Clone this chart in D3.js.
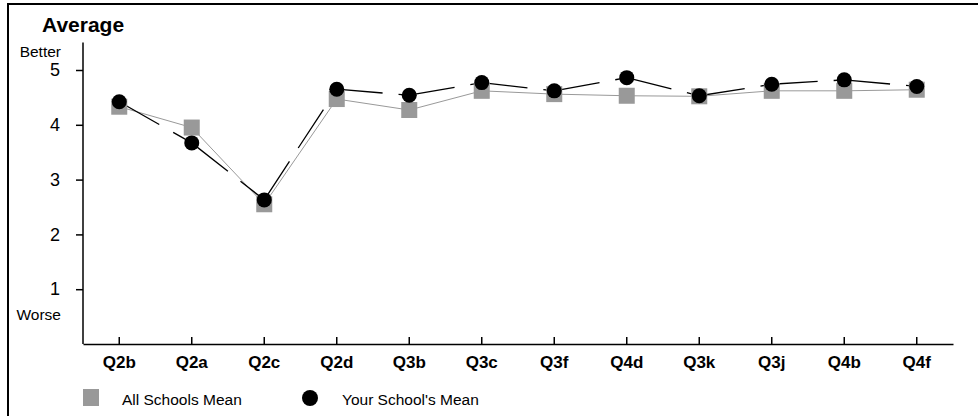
<!DOCTYPE html>
<html><head><meta charset="utf-8">
<script src="https://cdn.jsdelivr.net/npm/d3@7"></script>
<style>body{margin:0;background:#fff}svg{display:block;font-family:"Liberation Sans",Arial,sans-serif}</style>
</head><body><svg id="c" width="978" height="416"></svg>
<script>
const categories = ["Q2b","Q2a","Q2c","Q2d","Q3b","Q3c","Q3f","Q4d","Q3k","Q3j","Q4b","Q4f"];
const allSchools = [4.33,3.95,2.55,4.47,4.27,4.62,4.56,4.53,4.52,4.62,4.62,4.64];
const yourSchool = [4.42,3.67,2.63,4.65,4.54,4.77,4.62,4.86,4.53,4.74,4.82,4.70];
const yTicks = [1,2,3,4,5];
const seriesNames = ["All Schools Mean","Your School's Mean"];

const svg = d3.select("#c");
svg.append("rect").attr("x",8).attr("y",4).attr("width",1000).attr("height",500)
  .attr("fill","none").attr("stroke","#000").attr("stroke-width",2);

const x = d3.scaleBand().domain(categories).range([83,953]);
const y = d3.scaleLinear().domain([0,5.5]).range([344,42.6]);
const cx = c => x(c) + x.bandwidth()/2;

svg.append("text").attr("x",42).attr("y",32).attr("font-size",21).attr("font-weight","bold").text("Average");

// y axis
const ya = svg.append("g").attr("transform","translate(83,0)")
  .call(d3.axisLeft(y).tickValues(yTicks).tickSize(7).tickFormat(d3.format("d")));
ya.select(".domain").attr("d",`M0,${y(5.5)}V${y(0)}`).attr("stroke","#000").attr("stroke-width",1.5);
ya.selectAll(".tick line").attr("stroke","#000").attr("stroke-width",1.5);
ya.selectAll(".tick text").attr("font-size",18).attr("font-family","Liberation Sans, Arial, sans-serif").attr("fill","#000").attr("x",-23);
svg.append("text").attr("x",61).attr("y",57).attr("text-anchor","end").attr("font-size",15.5).text("Better");
svg.append("text").attr("x",61).attr("y",320).attr("text-anchor","end").attr("font-size",15.5).text("Worse");

// x axis
const xa = svg.append("g").attr("transform","translate(0,344)")
  .call(d3.axisBottom(x).tickSize(-7).tickSizeOuter(0));
xa.select(".domain").attr("stroke","#000").attr("stroke-width",1.5);
xa.selectAll(".tick line").attr("stroke","#000").attr("stroke-width",1.5);
xa.selectAll(".tick text").attr("font-size",17).attr("font-weight","bold").attr("font-family","Liberation Sans, Arial, sans-serif").attr("fill","#000").attr("y",12);

// gray line
const line = d3.line().x((d,i)=>cx(categories[i])).y(d=>y(d));
svg.append("path").datum(allSchools).attr("d",line).attr("fill","none").attr("stroke","#999").attr("stroke-width",1);

// black dashed segments (each segment starts its own dash pattern)
const segs = d3.pairs(yourSchool.map((v,i)=>[cx(categories[i]),y(v)]));
svg.append("g").selectAll("line").data(segs).join("line")
  .attr("x1",d=>d[0][0]).attr("y1",d=>d[0][1]).attr("x2",d=>d[1][0]).attr("y2",d=>d[1][1])
  .attr("stroke","#000").attr("stroke-width",1.3).attr("stroke-dasharray","46,16");

// squares
svg.append("g").selectAll("rect").data(allSchools).join("rect")
  .attr("x",(d,i)=>cx(categories[i])-8).attr("y",d=>y(d)-8).attr("width",16).attr("height",16).attr("fill","#999");
// circles
svg.append("g").selectAll("circle").data(yourSchool).join("circle")
  .attr("cx",(d,i)=>cx(categories[i])).attr("cy",d=>y(d)).attr("r",7.5).attr("fill","#000");

// legend
svg.append("rect").attr("x",83).attr("y",389).attr("width",16).attr("height",17).attr("fill","#999");
svg.append("text").attr("x",122).attr("y",405).attr("font-size",15.5).text(seriesNames[0]);
svg.append("circle").attr("cx",310).attr("cy",398).attr("r",8).attr("fill","#000");
svg.append("text").attr("x",342).attr("y",405).attr("font-size",15.5).text(seriesNames[1]);
</script></body></html>
